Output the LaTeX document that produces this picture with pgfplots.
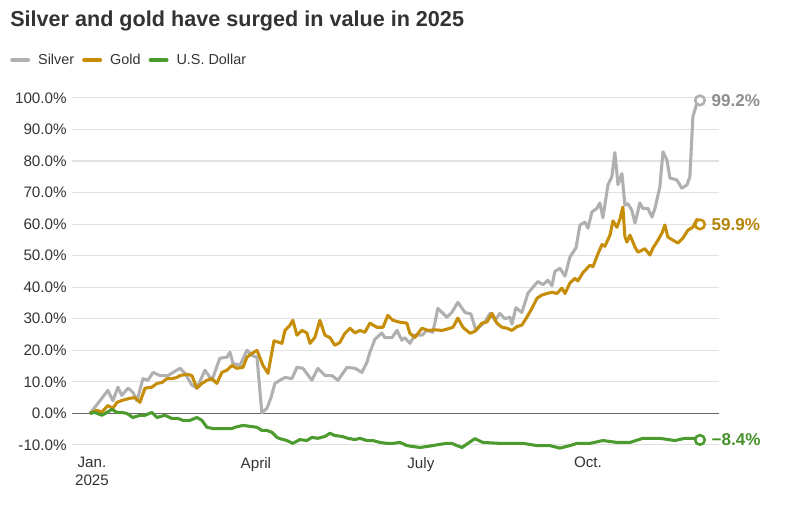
\documentclass[border=0pt]{standalone}
\usepackage{pgfplots}
\pgfplotsset{compat=1.18}
\usepackage{fontspec}
\setmainfont{Liberation Sans}

\definecolor{silverline}{HTML}{B0B0B0}
\definecolor{silverlab}{HTML}{8E8E8E}
\definecolor{goldline}{HTML}{C68D08}
\definecolor{goldlab}{HTML}{B5850B}
\definecolor{usdline}{HTML}{4C9B2F}
\definecolor{usdlab}{HTML}{45912B}
\definecolor{gridgray}{HTML}{E2E2E2}
\definecolor{textgray}{HTML}{333333}

\begin{document}
\begin{tikzpicture}
\useasboundingbox (0,0) rectangle (600pt,380.25pt);
\node[anchor=base west, font=\bfseries\fontsize{16.2}{18}\selectfont, text=textgray, inner sep=0pt]
  at (7.5pt,360pt) {Silver and gold have surged in value in 2025};

\begin{axis}[
  at={(54pt,41.8pt)}, anchor=south west,
  scale only axis, width=485.25pt, height=267.4pt,
  xmin=-9.6, xmax=337, ymin=-12, ymax=101,
  clip=false,
  axis line style={draw=none},
  tick style={draw=none},
  major tick length=0pt,
  ytick={-10,0,...,100},
  yticklabel={\pgfmathprintnumber[fixed,fixed zerofill,precision=1]{\tick}\%},
  ymajorgrids,
  major grid style={gridgray, line width=0.8pt},
  xtick={1.1,88.9,177.3,266.8},
  xticklabels={Jan.\\2025, April, July, Oct.},
  x tick label style={align=center, anchor=north, yshift=-1pt},
  y tick label style={xshift=-0.5pt},
  tick label style={font=\fontsize{11.4}{13.5}\selectfont, text=textgray},
  /pgf/number format/assume math mode=true,
  legend style={at={(-0.096,1.098)}, anchor=west, draw=none, fill=none,
    font=\fontsize{10.8}{12}\selectfont, text=textgray,
    legend columns=-1, column sep=4pt, inner sep=0pt},
  legend image code/.code={\draw[#1, line width=3pt, line cap=round] (0pt,0pt) -- (12pt,0pt);},
]
\draw[color=black!60, line width=0.8pt] (axis cs:-9.6,0) -- (axis cs:337,0);

\addplot[silverline, line width=2.3pt, line join=round, no marks] coordinates {
(0,0) (5.4,4) (9.6,7.3) (12.3,4) (15,8.3) (17.1,5.7) (20.4,8) (23,6.7) (25.2,4)
(28.4,11) (31.1,10.5) (33.8,13) (37.5,12) (41.8,12) (48.2,14.3) (50.9,12.7)
(54.6,9) (57.3,8) (61.6,13.7) (65.4,10.5) (69.6,17.5) (73.4,17.8) (75,19.4)
(76.6,15.9) (80.4,15.2) (84.1,20) (86.8,18.4) (89.5,17.8) (92.1,0.2) (94.8,1.6)
(97,5) (99.1,9.5) (101.8,10.5) (104.5,11.4) (108.2,11) (110.9,14.6) (114.1,14.3)
(118.9,10.5) (122.1,14.3) (125.9,12) (129.6,12) (132.9,10.5) (137.7,14.6)
(142,14.3) (145.7,13) (148.4,16.2) (150,19.4) (152.7,23.5) (156.4,25.5) (158,24)
(161.8,24) (164.5,26.3) (167.1,23.2) (168.7,24) (171.4,22.2) (174.1,24.8)
(177.9,24.8) (180.5,26.3) (183.7,25.7) (186.4,33.3) (191.2,30.5) (193.9,32)
(197.1,35.2) (200.9,32) (204.1,31.5) (206.8,26.3) (208.9,27.5) (211.6,29)
(214.3,31.7) (217,29.5) (219.6,31.7) (222.3,30) (225,30.5) (226.1,28.3)
(228.2,33.5) (231.4,32) (234.6,38) (237.3,40) (240,41.8) (242.7,40.8)
(245.3,42.2) (247.5,40.5) (249.1,45) (251.8,46) (254.5,43.5) (257.1,49.5)
(260.4,52.5) (262.5,59.7) (265.2,60.6) (266.8,58.7) (268.9,63.8) (271.6,65)
(273.2,66.7) (274.8,62) (277.5,72.4) (279.6,75) (281.2,82.7) (282.9,72.5)
(285,76) (286.6,66) (288.2,66.5) (290.3,64.4) (292,60.3) (294.6,66.7)
(296.2,65) (298.9,65) (301.1,62.2) (302.7,65) (305.3,71.7) (307,82.9)
(309.1,80.3) (310.7,74.6) (314.4,74) (317.1,71.4) (319.8,72.4) (321.4,75)
(323,94) (325.2,98.4) (326.8,99.2)
};
\addlegendentry{Silver}

\addplot[goldline, line width=2.3pt, line join=round, no marks] coordinates {
(0,0) (3.7,1) (6.4,0.4) (9.6,2.5) (12.3,1.6) (14.5,3.5) (17.1,4.1) (21.4,4.8)
(24.1,5) (26.8,3.5) (29.5,8) (33.2,8.3) (35.9,9.5) (38.6,9.8) (41.2,11) (43.9,11)
(46.6,11.4) (48.2,12) (52,12.4) (54.6,12) (57.3,8) (60,9.5) (62.7,10.5) (65.4,11)
(68,9.5) (70.7,13) (73.4,13.7) (76.1,15.2) (78.7,14.3) (82,14.6) (84.1,17.8)
(86.8,19) (89.5,20) (92.7,15.2) (95.4,12.7) (98.6,23) (102.9,22.2) (104.5,26.3)
(107.1,27.9) (108.7,29.5) (110.9,24.8) (113.6,26.3) (116.2,25.5) (117.9,22.2)
(120.5,24.1) (123.2,29.5) (125.9,24.8) (128.6,24) (131.2,21.6) (133.9,22.5)
(136.6,25.4) (139.3,27) (142,25.5) (144.6,26.3) (147.3,25.7) (150,28.6)
(153.7,27.3) (157,27.3) (159.6,31.1) (162.3,29.5) (166.1,28.9) (169.8,28.6)
(171.4,25.4) (174.1,24.1) (177.9,27) (181.1,26.3) (184.8,26.5) (188.6,26.3)
(191.8,26.8) (194.5,27.3) (197.1,30.2) (199.8,27.3) (203.6,25.4) (206.2,26)
(210,28.6) (212.7,29) (215.4,31.7) (218,28.6) (220.7,27.3) (223.4,27)
(226.1,26.3) (228.7,27.5) (231.4,28) (234.1,30.5) (236.8,33.3) (239.5,36.5)
(242.1,37.5) (244.8,38) (247.5,38.4) (250.2,38) (252.8,39.7) (254.5,38)
(257.1,41.3) (259.8,42.8) (261.4,42) (264.1,44.6) (267.9,47) (269.5,46.5)
(272.1,50.5) (274.3,53.5) (275.9,53) (278.6,56.5) (280.2,61) (282.3,59)
(283.9,61.5) (285.5,65.4) (286.6,56) (287.7,54.3) (289.3,56.5) (292,52.7)
(293.6,51.1) (295.7,51.7) (297.3,52.2) (300,50.2) (301.6,52.4) (304.3,54.9)
(306.4,57.1) (308,59.7) (309.6,55.9) (312.3,54.9) (315,54) (317.7,55.6)
(320.4,58.1) (323,59) (325.2,61.5) (326.8,59.9)
};
\addlegendentry{Gold}

\addplot[usdline, line width=2.3pt, line join=round, no marks] coordinates {
(0,0) (2.7,0.3) (6.4,-0.6) (9.1,0.3) (11.8,1.3) (14.5,0.3) (17.1,0.3) (19.8,0)
(23,-1.3) (26.8,-0.6) (29.5,-0.6) (33.2,0.3) (35.9,-1.3) (40.2,-0.6) (43.9,-1.6)
(47.1,-1.6) (49.8,-2.2) (53.6,-2.2) (57.3,-1.3) (60,-2.2) (62.7,-4.4) (65.9,-4.8)
(71.2,-4.8) (76.1,-4.8) (77.7,-4.4) (82,-3.8) (85.7,-4.1) (89.5,-4.4) (92.1,-5.4)
(94.8,-5.4) (97.5,-6) (100.2,-7.6) (101.8,-8) (105.5,-8.6) (108.7,-9.5)
(112.5,-8.3) (116.2,-8.6) (118.9,-7.6) (122.1,-7.9) (125.9,-7.3) (128.6,-6.3)
(131.2,-7) (135,-7.3) (138.2,-7.9) (142,-8.3) (144.6,-7.9) (148.4,-8.6)
(151.6,-8.6) (155.4,-9.2) (159.1,-9.5) (162.3,-9.5) (166.1,-9.2) (169.8,-10.2)
(173,-10.5) (176.8,-10.8) (180.5,-10.5) (183.7,-10.2) (187.5,-9.8) (191.2,-9.5)
(193.9,-9.5) (196.6,-10.2) (199.3,-10.8) (206.2,-8) (210.5,-9.2) (219.6,-9.5)
(226.6,-9.5) (232,-9.5) (239.5,-10.2) (246.4,-10.2) (251.8,-11) (257.1,-10.2)
(260.9,-9.5) (267.9,-9.5) (274.8,-8.6) (282.3,-9.2) (289.3,-9.2) (296.2,-7.9)
(300,-7.9) (305.3,-7.9) (313.4,-8.6) (318.7,-7.9) (324.1,-7.9) (326.8,-8.4)
};
\addlegendentry{U.S. Dollar}

% end markers
\addplot[silverline, line width=1.9pt, only marks, mark=*, mark size=3.6pt, mark options={fill=white}, forget plot]
  coordinates {(326.8,99.2)};
\addplot[goldline, line width=1.9pt, only marks, mark=*, mark size=3.6pt, mark options={fill=white}, forget plot]
  coordinates {(326.8,59.9)};
\addplot[usdline, line width=1.9pt, only marks, mark=*, mark size=3.6pt, mark options={fill=white}, forget plot]
  coordinates {(326.8,-8.4)};

\node[anchor=west, text=silverlab, font=\bfseries\fontsize{12.8}{14}\selectfont] at (axis cs:330.5,99.2) {99.2\%};
\node[anchor=west, text=goldlab, font=\bfseries\fontsize{12.8}{14}\selectfont] at (axis cs:330.5,59.9) {59.9\%};
\node[anchor=west, text=usdlab, font=\bfseries\fontsize{12.8}{14}\selectfont] at (axis cs:330.5,-8.4) {−8.4\%};
\end{axis}
\end{tikzpicture}
\end{document}
